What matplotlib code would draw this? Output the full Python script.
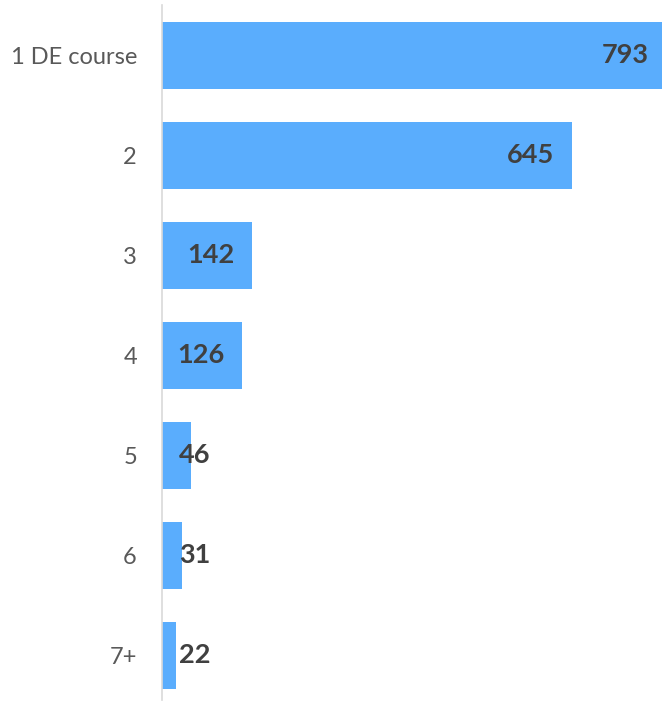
import matplotlib
matplotlib.use("Agg")
import matplotlib.pyplot as plt

categories = ["1 DE course", "2", "3", "4", "5", "6", "7+"]
counts = [793, 645, 142, 126, 46, 31, 22]

BAR_COLOR = "#5aadfd"
FONT = ["Lato", "DejaVu Sans"]


def main():
    fig = plt.figure(figsize=(6.62, 7.02), dpi=100)
    ax = fig.add_axes([162 / 662, 2 / 702, 1 - 162 / 662, 695 / 702])

    y = list(range(len(categories)))
    ax.barh(y, counts, height=0.67, color=BAR_COLOR)

    ax.set_xlim(0, 786)
    ax.set_ylim(6.45, -0.5)

    ax.set_yticks(y)
    ax.set_yticklabels(categories, family=FONT, fontsize=17, color="#595959")
    ax.tick_params(axis="y", length=0, pad=18)
    ax.set_xticks([])

    for side in ("top", "right", "bottom"):
        ax.spines[side].set_visible(False)
    ax.spines["left"].set_color("#d9d9d9")
    ax.spines["left"].set_linewidth(1.2)

    # value labels sit inside the bar end, short bars get them just past the axis
    for yi, v in zip(y, counts):
        if v < 100:
            ax.text(27, yi, str(v), ha="left", va="center", family=FONT,
                    fontsize=19.5, fontweight="bold", color="#404040")
        else:
            ax.text(v - 28, yi, str(v), ha="right", va="center", family=FONT,
                    fontsize=19.5, fontweight="bold", color="#404040")

    fig.savefig("out.png", dpi=100)
    plt.close(fig)


if __name__ == "__main__":
    main()
